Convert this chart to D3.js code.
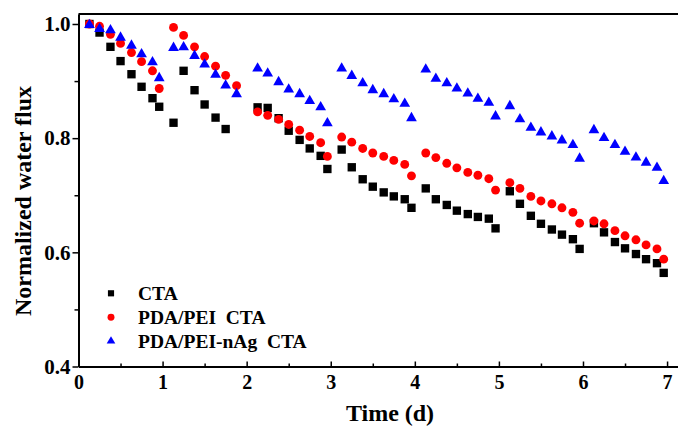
<!DOCTYPE html>
<html>
<head>
<meta charset="utf-8">
<script src="https://cdn.jsdelivr.net/npm/d3@7"></script>
<style>
  html, body { margin: 0; padding: 0; background: #fff; }
  svg { display: block; }
  text { font-family: "Liberation Serif", "Times New Roman", serif; font-weight: bold; fill: #000; }
</style>
</head>
<body>
<svg id="chart" width="678" height="430"></svg>
<script>
// Normalized water flux over seven days of operation (measurement times in days)
const ctaTime = [0.13, 0.25, 0.38, 0.5, 0.63, 0.75, 0.88, 0.96, 1.13,
  1.25, 1.38, 1.5, 1.63, 1.75,
  2.13, 2.25, 2.38, 2.5, 2.63, 2.75, 2.88, 2.96,
  3.13, 3.25, 3.38, 3.5, 3.63, 3.75, 3.88, 3.96,
  4.13, 4.25, 4.38, 4.5, 4.63, 4.75, 4.88, 4.96,
  5.13, 5.25, 5.38, 5.5, 5.63, 5.75, 5.88, 5.96,
  6.13, 6.25, 6.38, 6.5, 6.63, 6.75, 6.88, 6.96];
const ctaFlux = [1.0, 0.985, 0.960, 0.935, 0.912, 0.890, 0.870, 0.855, 0.827,
  0.918, 0.884, 0.859, 0.836, 0.816,
  0.854, 0.853, 0.835, 0.813, 0.797, 0.782, 0.769, 0.746,
  0.780, 0.749, 0.728, 0.715, 0.705, 0.698, 0.693, 0.678,
  0.712, 0.693, 0.683, 0.673, 0.667, 0.662, 0.659, 0.642,
  0.707, 0.685, 0.664, 0.650, 0.640, 0.631, 0.623, 0.606,
  0.651, 0.635, 0.618, 0.607, 0.597, 0.588, 0.581, 0.564];

const peiTime = [0.13, 0.25, 0.38, 0.5, 0.63, 0.75, 0.88, 0.96,
  1.13, 1.25, 1.38, 1.5, 1.63, 1.75, 1.88,
  2.13, 2.25, 2.38, 2.5, 2.63, 2.75, 2.88, 2.96,
  3.13, 3.25, 3.38, 3.5, 3.63, 3.75, 3.88, 3.96,
  4.13, 4.25, 4.38, 4.5, 4.63, 4.75, 4.88, 4.96,
  5.13, 5.25, 5.38, 5.5, 5.63, 5.75, 5.88, 5.96,
  6.13, 6.25, 6.38, 6.5, 6.63, 6.75, 6.88, 6.96];
const peiFlux = [1.0, 0.996, 0.982, 0.966, 0.950, 0.934, 0.918, 0.887,
  0.994, 0.980, 0.960, 0.943, 0.926, 0.910, 0.892,
  0.846, 0.840, 0.833, 0.824, 0.814, 0.803, 0.792, 0.768,
  0.802, 0.793, 0.782, 0.774, 0.768, 0.761, 0.754, 0.734,
  0.774, 0.766, 0.756, 0.748, 0.740, 0.735, 0.729, 0.709,
  0.722, 0.712, 0.698, 0.690, 0.685, 0.678, 0.670, 0.651,
  0.655, 0.650, 0.638, 0.629, 0.622, 0.613, 0.606, 0.588];

const agTime = [0.13, 0.25, 0.38, 0.5, 0.63, 0.75, 0.88, 0.96,
  1.13, 1.25, 1.38, 1.5, 1.63, 1.75, 1.88,
  2.13, 2.25, 2.38, 2.5, 2.63, 2.75, 2.88, 2.96,
  3.13, 3.25, 3.38, 3.5, 3.63, 3.75, 3.88, 3.96,
  4.13, 4.25, 4.38, 4.5, 4.63, 4.75, 4.88, 4.96,
  5.13, 5.25, 5.38, 5.5, 5.63, 5.75, 5.88, 5.96,
  6.13, 6.25, 6.38, 6.5, 6.63, 6.75, 6.88, 6.96];
const agFlux = [1.0, 0.993, 0.991, 0.978, 0.964, 0.949, 0.935, 0.907,
  0.960, 0.961, 0.946, 0.931, 0.913, 0.894, 0.879,
  0.924, 0.915, 0.900, 0.887, 0.879, 0.867, 0.856, 0.828,
  0.924, 0.911, 0.898, 0.886, 0.879, 0.870, 0.862, 0.837,
  0.922, 0.906, 0.898, 0.889, 0.880, 0.871, 0.864, 0.840,
  0.858, 0.835, 0.820, 0.812, 0.805, 0.798, 0.790, 0.766,
  0.816, 0.802, 0.790, 0.778, 0.768, 0.759, 0.750, 0.727];

const seriesNames = ["CTA", "PDA/PEI\u00a0\u00a0CTA", "PDA/PEI-nAg\u00a0\u00a0CTA"];
const xTicks = [0, 1, 2, 3, 4, 5, 6, 7];
const yTicks = [0.4, 0.6, 0.8, 1.0];

const series = [
  { name: seriesNames[0], time: ctaTime, flux: ctaFlux, symbol: d3.symbolSquare, color: "#000000", size: 70, legendSize: 38 },
  { name: seriesNames[1], time: peiTime, flux: peiFlux, symbol: d3.symbolCircle, color: "#ff0000", size: 62, legendSize: 38 },
  { name: seriesNames[2], time: agTime, flux: agFlux, symbol: d3.symbolTriangle, color: "#0000ff", size: 50, legendSize: 32 }
];

const svg = d3.select("#chart");
const x = d3.scaleLinear().domain([0, 7.13]).range([78.5, 678]);
const y = d3.scaleLinear().domain([0.4, 1.0175]).range([366.5, 14]);

// Top border line
svg.append("line")
  .attr("x1", x(0)).attr("x2", 678)
  .attr("y1", y(1.0175)).attr("y2", y(1.0175))
  .attr("stroke", "#000").attr("stroke-width", 2);

// Bottom axis: ticks point into the plot
const xAxis = svg.append("g").attr("transform", `translate(0,${y(0.4)})`)
  .call(d3.axisBottom(x).tickValues(xTicks).tickFormat(d3.format("d")).tickSizeInner(-5).tickSizeOuter(0));
xAxis.select(".domain").attr("stroke-width", 2);
xAxis.selectAll(".tick line").attr("stroke-width", 1.5);
xAxis.selectAll(".tick text").attr("y", 8).attr("dy", "0.71em")
  .style("font-size", "20px").style("font-family", "Liberation Serif").style("font-weight", "bold");
svg.append("g").attr("transform", `translate(0,${y(0.4)})`)
  .call(d3.axisBottom(x).tickValues(d3.range(0.5, 7, 1)).tickFormat("").tickSizeInner(-3).tickSizeOuter(0))
  .call(g => g.select(".domain").remove())
  .selectAll(".tick line").attr("stroke-width", 1.5);

// Left axis: ticks point outward
const yAxis = svg.append("g").attr("transform", `translate(${x(0)},0)`)
  .call(d3.axisLeft(y).tickValues(yTicks).tickFormat(d3.format(".1f")).tickSizeInner(6).tickSizeOuter(0));
yAxis.select(".domain").attr("stroke-width", 2);
yAxis.selectAll(".tick line").attr("stroke-width", 1.5);
yAxis.selectAll(".tick text").attr("x", -8)
  .style("font-size", "21px").style("font-family", "Liberation Serif").style("font-weight", "bold");
svg.append("g").attr("transform", `translate(${x(0)},0)`)
  .call(d3.axisLeft(y).tickValues([0.5, 0.7, 0.9]).tickFormat("").tickSizeInner(4).tickSizeOuter(0))
  .call(g => g.select(".domain").remove())
  .selectAll(".tick line").attr("stroke-width", 1.5);

// Axis titles
svg.append("text")
  .attr("x", 390).attr("y", 421)
  .attr("text-anchor", "middle")
  .style("font-size", "24px")
  .text("Time (d)");
svg.append("text")
  .attr("transform", "translate(31,201) rotate(-90)")
  .attr("text-anchor", "middle")
  .style("font-size", "24px")
  .text("Normalized water flux");

// Data markers
series.forEach(s => {
  const pts = s.time.map((t, i) => ({ t: t, v: s.flux[i] }));
  svg.append("g").selectAll("path").data(pts).join("path")
    .attr("transform", d => `translate(${x(d.t)},${y(d.v) + (s.symbol === d3.symbolTriangle ? 1 : 0)})`)
    .attr("d", d3.symbol().type(s.symbol).size(s.size))
    .attr("fill", s.color);
});

// Legend
const legend = svg.append("g");
series.forEach((s, i) => {
  const ly = 293.3 + i * 23.9;
  legend.append("path")
    .attr("transform", `translate(111,${ly})`)
    .attr("d", d3.symbol().type(s.symbol).size(s.legendSize))
    .attr("fill", s.color);
  legend.append("text")
    .attr("x", 138).attr("y", ly + 6.5)
    .style("font-size", "19.5px")
    .text(s.name);
});
</script>
</body>
</html>
